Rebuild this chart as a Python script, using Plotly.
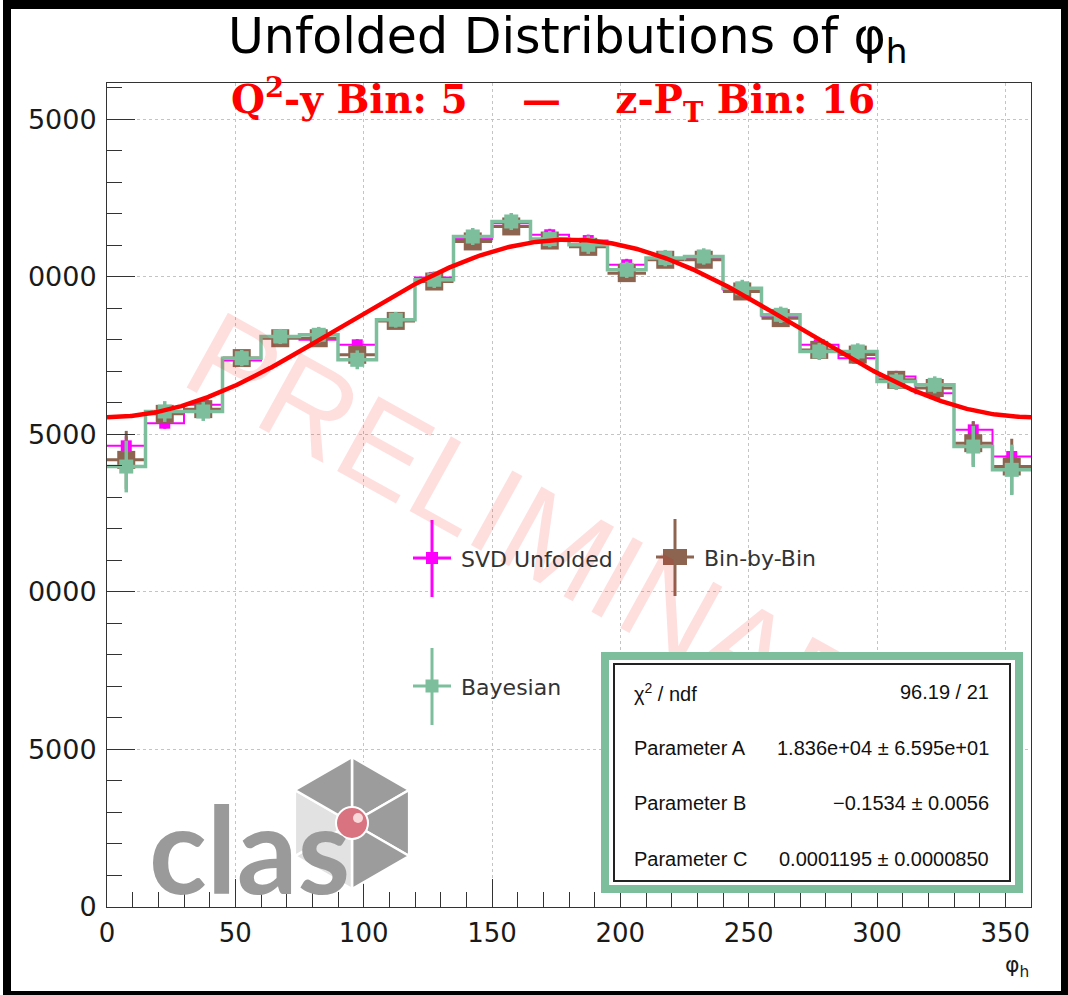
import numpy as np
import plotly.graph_objects as go

# ---- binning in phi_h (degrees) ----
phi_edges = list(range(0, 361, 15))
phi_centers = [e + 7.5 for e in phi_edges[:-1]]
phi_half_width = [7.5] * len(phi_centers)

# ---- unfolded yields ----
svd_counts = [14635, 15355, 15937, 17343, 18105, 18000, 17841, 18635, 19980, 21200, 21700, 21333,
              21150, 20381, 20593, 20600, 19600, 18750, 17841, 17418, 16836, 16307, 15143, 14296]
svd_err = [300, 180, 180, 180, 180, 180, 180, 180, 180, 190, 190, 190,
           190, 190, 190, 190, 180, 180, 180, 180, 180, 180, 260, 300]

bbb_counts = [14190, 15650, 15800, 17420, 18050, 18050, 17524, 18600, 19850, 21122, 21598, 21150,
              20950, 20116, 20540, 20540, 19534, 18688, 17680, 17530, 16730, 16470, 14720, 13980]
bbb_err = [920, 280, 260, 240, 230, 230, 260, 240, 250, 250, 250, 250,
           260, 250, 250, 250, 250, 240, 250, 250, 250, 250, 700, 880]

bayes_counts = [13978, 15725, 15725, 17418, 18105, 18159, 17365, 18635, 19905, 21279, 21755, 21196,
                21016, 20222, 20593, 20645, 19635, 18794, 17630, 17630, 16677, 16571, 14613, 13873]
bayes_err = [820, 330, 300, 260, 240, 250, 300, 250, 260, 270, 270, 260,
             290, 260, 260, 260, 270, 260, 270, 260, 270, 270, 650, 800]

# ---- fit: A * (1 + B cos(phi) + C cos(2 phi)) ----
fit_A = 1.836e4
fit_B = -0.1534
fit_C = 0.0001195
fit_labels = [("χ<sup>2</sup> / ndf", "96.19 / 21"),
              ("Parameter A", "1.836e+04 ± 6.595e+01"),
              ("Parameter B", "−0.1534 ± 0.0056"),
              ("Parameter C", "0.0001195 ± 0.0000850")]

# ---- axis ticks ----
y_tickvals = [0, 5000, 10000, 15000, 20000, 25000]
y_ticktext = ["0", "5000", "0000", "5000", "0000", "5000"]
x_tickvals = [0, 50, 100, 150, 200, 250, 300, 350]

MAGENTA = "#ff00ff"
BROWN = "#8c6450"
GREEN = "#7dbf9d"
RED = "#ff0000"

W, H = 1068, 995
PL, PR, PT, PB = 107, 1031, 83, 907


def px(x):
    return (x - PL) / (PR - PL)


def py(y):
    return (PB - y) / (PB - PT)


fig = go.Figure()

# SVD unfolded: step outline + points
fig.add_trace(go.Scatter(x=phi_edges, y=svd_counts + [svd_counts[-1]], mode="lines",
                         line=dict(color=MAGENTA, width=2, shape="hv"), showlegend=False,
                         hoverinfo="skip"))
fig.add_trace(go.Scatter(x=phi_centers, y=svd_counts, mode="markers", name="SVD Unfolded",
                         marker=dict(symbol="square", size=11, color=MAGENTA),
                         error_y=dict(type="data", array=svd_err, color=MAGENTA, thickness=3, width=0),
                         showlegend=False))

# Bin-by-bin: points with full-bin horizontal bars
fig.add_trace(go.Scatter(x=phi_centers, y=bbb_counts, mode="markers", name="Bin-by-Bin",
                         marker=dict(symbol="square", size=18, color=BROWN),
                         error_y=dict(type="data", array=bbb_err, color=BROWN, thickness=3, width=0),
                         error_x=dict(type="data", array=phi_half_width, color=BROWN, thickness=3, width=0),
                         showlegend=False))

# Bayesian: step outline + points
fig.add_trace(go.Scatter(x=phi_edges, y=bayes_counts + [bayes_counts[-1]], mode="lines",
                         line=dict(color=GREEN, width=3.5, shape="hv"), showlegend=False,
                         hoverinfo="skip"))
fig.add_trace(go.Scatter(x=phi_centers, y=bayes_counts, mode="markers", name="Bayesian",
                         marker=dict(symbol="square", size=14, color=GREEN),
                         error_y=dict(type="data", array=bayes_err, color=GREEN, thickness=3.5, width=0),
                         showlegend=False))

# fit curve
phi_fine = np.linspace(0, 360, 721)
rad = np.deg2rad(phi_fine)
fit_curve = fit_A * (1 + fit_B * np.cos(rad) + fit_C * np.cos(2 * rad))
fig.add_trace(go.Scatter(x=phi_fine, y=fit_curve, mode="lines",
                         line=dict(color=RED, width=4.5), showlegend=False))

shapes = []
annotations = []

# watermark
annotations.append(dict(text="PRELIMINARY", x=px(565), y=py(548), xref="paper", yref="paper",
                        showarrow=False, textangle=29,
                        font=dict(family="Liberation Sans, Arial", size=124,
                                  color="rgba(255,0,0,0.13)")))

# page border
for (x0, y0, x1, y1) in [(3, 0, 1068, 9), (3, 0, 11, 995), (1061, 0, 1068, 995), (3, 991, 1068, 995)]:
    shapes.append(dict(type="rect", xref="paper", yref="paper", x0=px(x0), x1=px(x1),
                       y0=py(y0), y1=py(y1), fillcolor="black", line=dict(width=0), layer="above"))

# titles
annotations.append(dict(text="Unfolded Distributions of φ<sub>h</sub>", x=px(568), y=py(40),
                        xref="paper", yref="paper", showarrow=False, xanchor="center", yanchor="middle",
                        font=dict(family="DejaVu Sans", size=49, color="black")))
nb = "\u00a0"
annotations.append(dict(text=f"Q<sup>2</sup>-y Bin: 5{nb*4}—{nb*4}z-P<sub>T</sub> Bin: 16",
                        x=px(553), y=py(99), xref="paper", yref="paper", showarrow=False,
                        xanchor="center", yanchor="middle",
                        font=dict(family="DejaVu Serif", size=39, color=RED, weight="bold")))
annotations.append(dict(text="φ<sub>h</sub>", x=px(1031), y=py(966), xref="paper", yref="paper",
                        showarrow=False, xanchor="right", yanchor="middle",
                        font=dict(family="DejaVu Sans", size=22, color="#1a1a1a")))

# legend glyphs
legend_items = [("SVD Unfolded", MAGENTA, 432, 558, 12), ("Bin-by-Bin", BROWN, 675, 557, 20),
                ("Bayesian", GREEN, 432, 686, 13)]
for label, col, cx, cy, sz in legend_items:
    shapes.append(dict(type="line", xref="paper", yref="paper", x0=px(cx), x1=px(cx),
                       y0=py(cy - 38), y1=py(cy + 39), line=dict(color=col, width=3)))
    shapes.append(dict(type="line", xref="paper", yref="paper", x0=px(cx - 19), x1=px(cx + 19),
                       y0=py(cy), y1=py(cy), line=dict(color=col, width=3)))
    shapes.append(dict(type="rect", xref="paper", yref="paper", x0=px(cx - sz / 2 - (2 if sz > 15 else 0)),
                       x1=px(cx + sz / 2 + (2 if sz > 15 else 0)),
                       y0=py(cy - sz / 2 + (2 if sz > 15 else 0)), y1=py(cy + sz / 2 - (2 if sz > 15 else 0)),
                       fillcolor=col, line=dict(width=0)))
    annotations.append(dict(text=label, x=px(cx + 27), y=py(cy + 1), xref="paper", yref="paper",
                            showarrow=False, xanchor="left", yanchor="middle",
                            font=dict(family="DejaVu Sans", size=22, color="#333333")))

# stats box (green frame, inner black frame, text rows)
annotations.append(dict(text=" ", x=px(601), y=py(652), xref="paper", yref="paper", showarrow=False,
                        xanchor="left", yanchor="top", width=406, height=225, bgcolor="white",
                        bordercolor=GREEN, borderwidth=8, borderpad=0))
annotations.append(dict(text=" ", x=px(613), y=py(663), xref="paper", yref="paper", showarrow=False,
                        xanchor="left", yanchor="top", width=394, height=215, bgcolor="white",
                        bordercolor="#222222", borderwidth=2, borderpad=0))
for i, (lab, val) in enumerate(fit_labels):
    yy = 692 + i * 55.5
    annotations.append(dict(text=lab, x=px(632), y=py(yy), xref="paper", yref="paper", showarrow=False,
                            xanchor="left", yanchor="middle",
                            font=dict(family="Liberation Sans, Arial", size=20, color="#111111")))
    annotations.append(dict(text=val, x=px(991), y=py(yy), xref="paper", yref="paper", showarrow=False,
                            xanchor="right", yanchor="middle",
                            font=dict(family="Liberation Sans, Arial", size=20, color="#111111")))

# CLAS logo: hexagon of six sectors with a sphere at the centre
lc_x, lc_y, lr = 352, 823, 66
verts = [(lc_x + lr * np.cos(np.deg2rad(a)), lc_y - lr * np.sin(np.deg2rad(a)))
         for a in (90, 30, -30, -90, -150, 150)]
sector_fill = ["#9c9c9c", "#9c9c9c", "#9c9c9c", "#e2e2e2", "#e2e2e2", "#9c9c9c"]
for k in range(6):
    a = verts[k]
    b = verts[(k + 1) % 6]
    path = (f"M {px(lc_x)},{py(lc_y)} L {px(a[0])},{py(a[1])} L {px(b[0])},{py(b[1])} Z")
    shapes.append(dict(type="path", xref="paper", yref="paper", path=path,
                       fillcolor=sector_fill[k], line=dict(color="white", width=2.5), layer="above"))

annotations.append(dict(text="clas", x=px(249), y=py(848), xref="paper", yref="paper", showarrow=False,
                        xanchor="center", yanchor="middle",
                        font=dict(family="Lato", size=120, color="#9a9a9a", weight="bold")))

fig.update_layout(shapes=shapes, annotations=annotations)
fig.add_shape(type="circle", xref="paper", yref="paper", x0=px(336), x1=px(368), y0=py(839), y1=py(807),
              fillcolor="#d9737f", line=dict(color="white", width=2), layer="above")
fig.add_shape(type="circle", xref="paper", yref="paper", x0=px(353), x1=px(363), y0=py(823), y1=py(813),
              fillcolor="rgba(255,235,235,0.85)", line=dict(width=0), layer="above")

axis_common = dict(showline=True, linecolor="#333333", linewidth=1, mirror=True,
                   ticks="inside", ticklen=28, tickwidth=1, tickcolor="#333333",
                   showgrid=True, gridcolor="#c4c4c4", griddash="dot", gridwidth=1,
                   zeroline=False)

fig.update_xaxes(range=[0, 360], tickvals=x_tickvals, ticklabelstandoff=3,
                 tickfont=dict(family="DejaVu Sans", size=26, color="#1a1a1a"),
                 minor=dict(dtick=10, ticklen=15, ticks="inside", tickcolor="#333333", showgrid=False),
                 **axis_common)
fig.update_yaxes(range=[0, 26150], tickvals=y_tickvals, ticktext=y_ticktext, ticklabelstandoff=4,
                 tickfont=dict(family="DejaVu Sans", size=27, color="#1a1a1a"),
                 minor=dict(dtick=1000, ticklen=15, ticks="inside", tickcolor="#333333", showgrid=False),
                 **axis_common)

fig.update_layout(width=W, height=H, autosize=False,
                  margin=dict(l=PL, r=W - PR, t=PT, b=H - PB, pad=0),
                  paper_bgcolor="white", plot_bgcolor="white", showlegend=False)

fig.write_html("out.html")
